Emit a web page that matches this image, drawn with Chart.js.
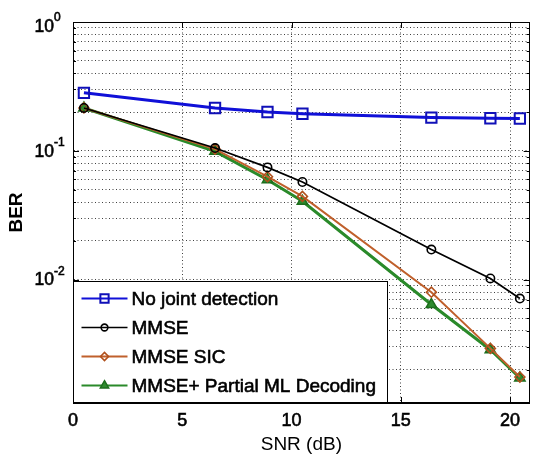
<!DOCTYPE html>
<html><head><meta charset="utf-8">
<script src="https://cdn.jsdelivr.net/npm/chart.js@4.4.1/dist/chart.umd.min.js"></script>
<style>html,body{margin:0;padding:0;background:#fff;}#wrap{width:539px;height:458px;}</style>
</head><body><div id="wrap"><canvas id="c" width="539" height="458"></canvas></div>
<script>
const snr = [0.5, 6.5, 8.9, 10.5, 16.4, 19.1, 20.45];
const berNoJoint = [0.282, 0.215, 0.200, 0.194, 0.181, 0.179, 0.178];
const berMMSE = [0.215, 0.105, 0.0743, 0.0572, 0.0171, 0.0102, 0.00712];
const berSIC = [0.215, 0.103, 0.0629, 0.0442, 0.00797, 0.00292, 0.00175];
const berPML = [0.215, 0.099, 0.0596, 0.0405, 0.0064, 0.00285, 0.00172];
const seriesNames = ['No joint detection', 'MMSE', 'MMSE SIC', 'MMSE+ Partial ML Decoding'];
const xTickValues = [0, 5, 10, 15, 20];
const yLabelExponents = [-2, -1, 0];
const xTitle = 'SNR (dB)';
const yTitle = 'BER';

const FONT = '"Liberation Sans", Arial, sans-serif';
const toPts = arr => snr.map((x, i) => ({x: x, y: arr[i]}));

const datasets = [
  {label: seriesNames[0], data: toPts(berNoJoint), borderColor: '#1010d8', borderWidth: 3,
   pointStyle: 'rect', pointRadius: 7.3, pointBorderWidth: 2, pointBackgroundColor: 'rgba(0,0,0,0)', pointBorderColor: '#1010b8'},
  {label: seriesNames[1], data: toPts(berMMSE), borderColor: '#000000', borderWidth: 1.7,
   pointStyle: 'circle', pointRadius: 4.2, pointBorderWidth: 1.6, pointBackgroundColor: 'rgba(0,0,0,0)', pointBorderColor: '#000000'},
  {label: seriesNames[2], data: toPts(berSIC), borderColor: '#c0602c', borderWidth: 2,
   pointStyle: 'rectRot', pointRadius: 5, pointBorderWidth: 1.6, pointBackgroundColor: 'rgba(0,0,0,0)', pointBorderColor: '#b0501c'},
  {label: seriesNames[3], data: toPts(berPML), borderColor: '#2a8a2a', borderWidth: 3,
   pointStyle: 'triangle', pointRadius: 6, pointBorderWidth: 1.5, pointBackgroundColor: '#2e8b2e', pointBorderColor: '#1d6e1d'}
];

const framePlugin = {
  id: 'frame',
  afterDraw(chart) {
    const ctx = chart.ctx, a = chart.chartArea;
    const xs = chart.scales.x, ys = chart.scales.y;
    ctx.save();
    ctx.strokeStyle = '#000'; ctx.lineWidth = 1;
    ctx.beginPath();
    ys.ticks.forEach(t => {
      const py = Math.round(ys.getPixelForValue(t.value)) + 0.5;
      const len = t.major ? 6 : 3;
      ctx.moveTo(a.left, py); ctx.lineTo(a.left + len, py);
      ctx.moveTo(a.right, py); ctx.lineTo(a.right - len, py);
    });
    xs.ticks.forEach(t => {
      const px = Math.round(xs.getPixelForValue(t.value)) + 0.5;
      ctx.moveTo(px, a.bottom); ctx.lineTo(px, a.bottom - 6);
      ctx.moveTo(px, a.top); ctx.lineTo(px, a.top + 6);
    });
    ctx.stroke();
    ctx.strokeRect(Math.round(a.left) + 0.5, Math.round(a.top) + 0.5,
                   Math.round(a.right - a.left) - 1, Math.round(a.bottom - a.top) - 1);
    // y tick labels 10^n
    ctx.fillStyle = '#000'; ctx.strokeStyle = '#000'; ctx.lineWidth = 0.6;
    yLabelExponents.forEach(e => {
      let py = ys.getPixelForValue(Math.pow(10, e));
      if (e === 0) py += 4;
      ctx.font = '17.5px ' + FONT; ctx.textAlign = 'right'; ctx.textBaseline = 'middle';
      ctx.fillText('10', 54, py + 1); ctx.strokeText('10', 54, py + 1);
      ctx.font = '12px ' + FONT; ctx.textAlign = 'left';
      ctx.fillText(String(e), 54, py - 8); ctx.strokeText(String(e), 54, py - 8);
    });
    // legend
    const lx = Math.round(a.left) + 0.5, lw = 314, lh = 121;
    const lb = Math.round(a.bottom) - 0.5, lt = lb - lh;
    ctx.fillStyle = '#fff';
    ctx.fillRect(lx, lt, lw, lh);
    ctx.strokeStyle = '#000'; ctx.lineWidth = 1;
    ctx.strokeRect(lx, lt, lw, lh);
    chart.data.datasets.forEach((ds, i) => {
      const y = lt + 17 + i * 29;
      ctx.strokeStyle = ds.borderColor; ctx.lineWidth = Math.min(ds.borderWidth, 2);
      ctx.beginPath(); ctx.moveTo(lx + 8, y); ctx.lineTo(lx + 54, y); ctx.stroke();
      ctx.strokeStyle = ds.pointBorderColor; ctx.fillStyle = ds.pointBackgroundColor;
      ctx.lineWidth = ds.pointBorderWidth;
      Chart.helpers.drawPoint(ctx, {pointStyle: ds.pointStyle, radius: ds.pointRadius * 0.8,
        rotation: 0, borderWidth: ds.pointBorderWidth}, lx + 31, y);
      ctx.fillStyle = '#000'; ctx.strokeStyle = '#000'; ctx.lineWidth = 0.6;
      ctx.font = '19px ' + FONT;
      ctx.textAlign = 'left'; ctx.textBaseline = 'middle';
      ctx.fillText(ds.label, lx + 58, y + 1); ctx.strokeText(ds.label, lx + 58, y + 1);
    });
    ctx.restore();
  }
};

new Chart(document.getElementById('c'), {
  type: 'line',
  data: {datasets: datasets},
  options: {
    responsive: false, animation: false, devicePixelRatio: 1,
    layout: {padding: {top: 22, right: 1, left: 0, bottom: 0}},
    plugins: {legend: {display: false}, tooltip: {enabled: false}},
    elements: {line: {tension: 0}},
    scales: {
      x: {
        type: 'linear', min: 0, max: 20.9,
        afterBuildTicks: s => { s.ticks = xTickValues.map(v => ({value: v})); },
        afterFit: s => { s.height = 55; },
        ticks: {padding: 7, color: '#000', font: {size: 18, family: FONT}, maxRotation: 0, autoSkip: false,
                textStrokeColor: '#000', textStrokeWidth: 0.6},
        grid: {color: 'rgba(0,0,0,0.75)', lineWidth: 1, drawTicks: false},
        border: {display: true, color: '#000', width: 1, dash: [1, 2.5]},
        title: {display: true, text: xTitle, color: '#000', font: {size: 19, family: FONT, lineHeight: 1.37}, padding: 0}
      },
      y: {
        type: 'logarithmic', min: 0.0011, max: 1,
        afterBuildTicks: s => {
          const t = [];
          for (let e = -3; e <= 0; e++) for (let m = 1; m <= 9; m++) {
            const v = m * Math.pow(10, e);
            if (v >= 0.0011 && v <= 1.0000001) t.push({value: v, major: m === 1});
          }
          s.ticks = t;
        },
        afterFit: s => { s.width = 73; },
        ticks: {display: false, autoSkip: false},
        grid: {color: 'rgba(0,0,0,0.75)', lineWidth: 1, drawTicks: false},
        border: {display: true, color: '#000', width: 1, dash: [1, 2.5]},
        title: {display: true, text: yTitle, color: '#000', font: {size: 19, family: FONT, weight: 'bold', lineHeight: 1.8}, padding: 0}
      }
    }
  },
  plugins: [framePlugin]
});
</script></body></html>
